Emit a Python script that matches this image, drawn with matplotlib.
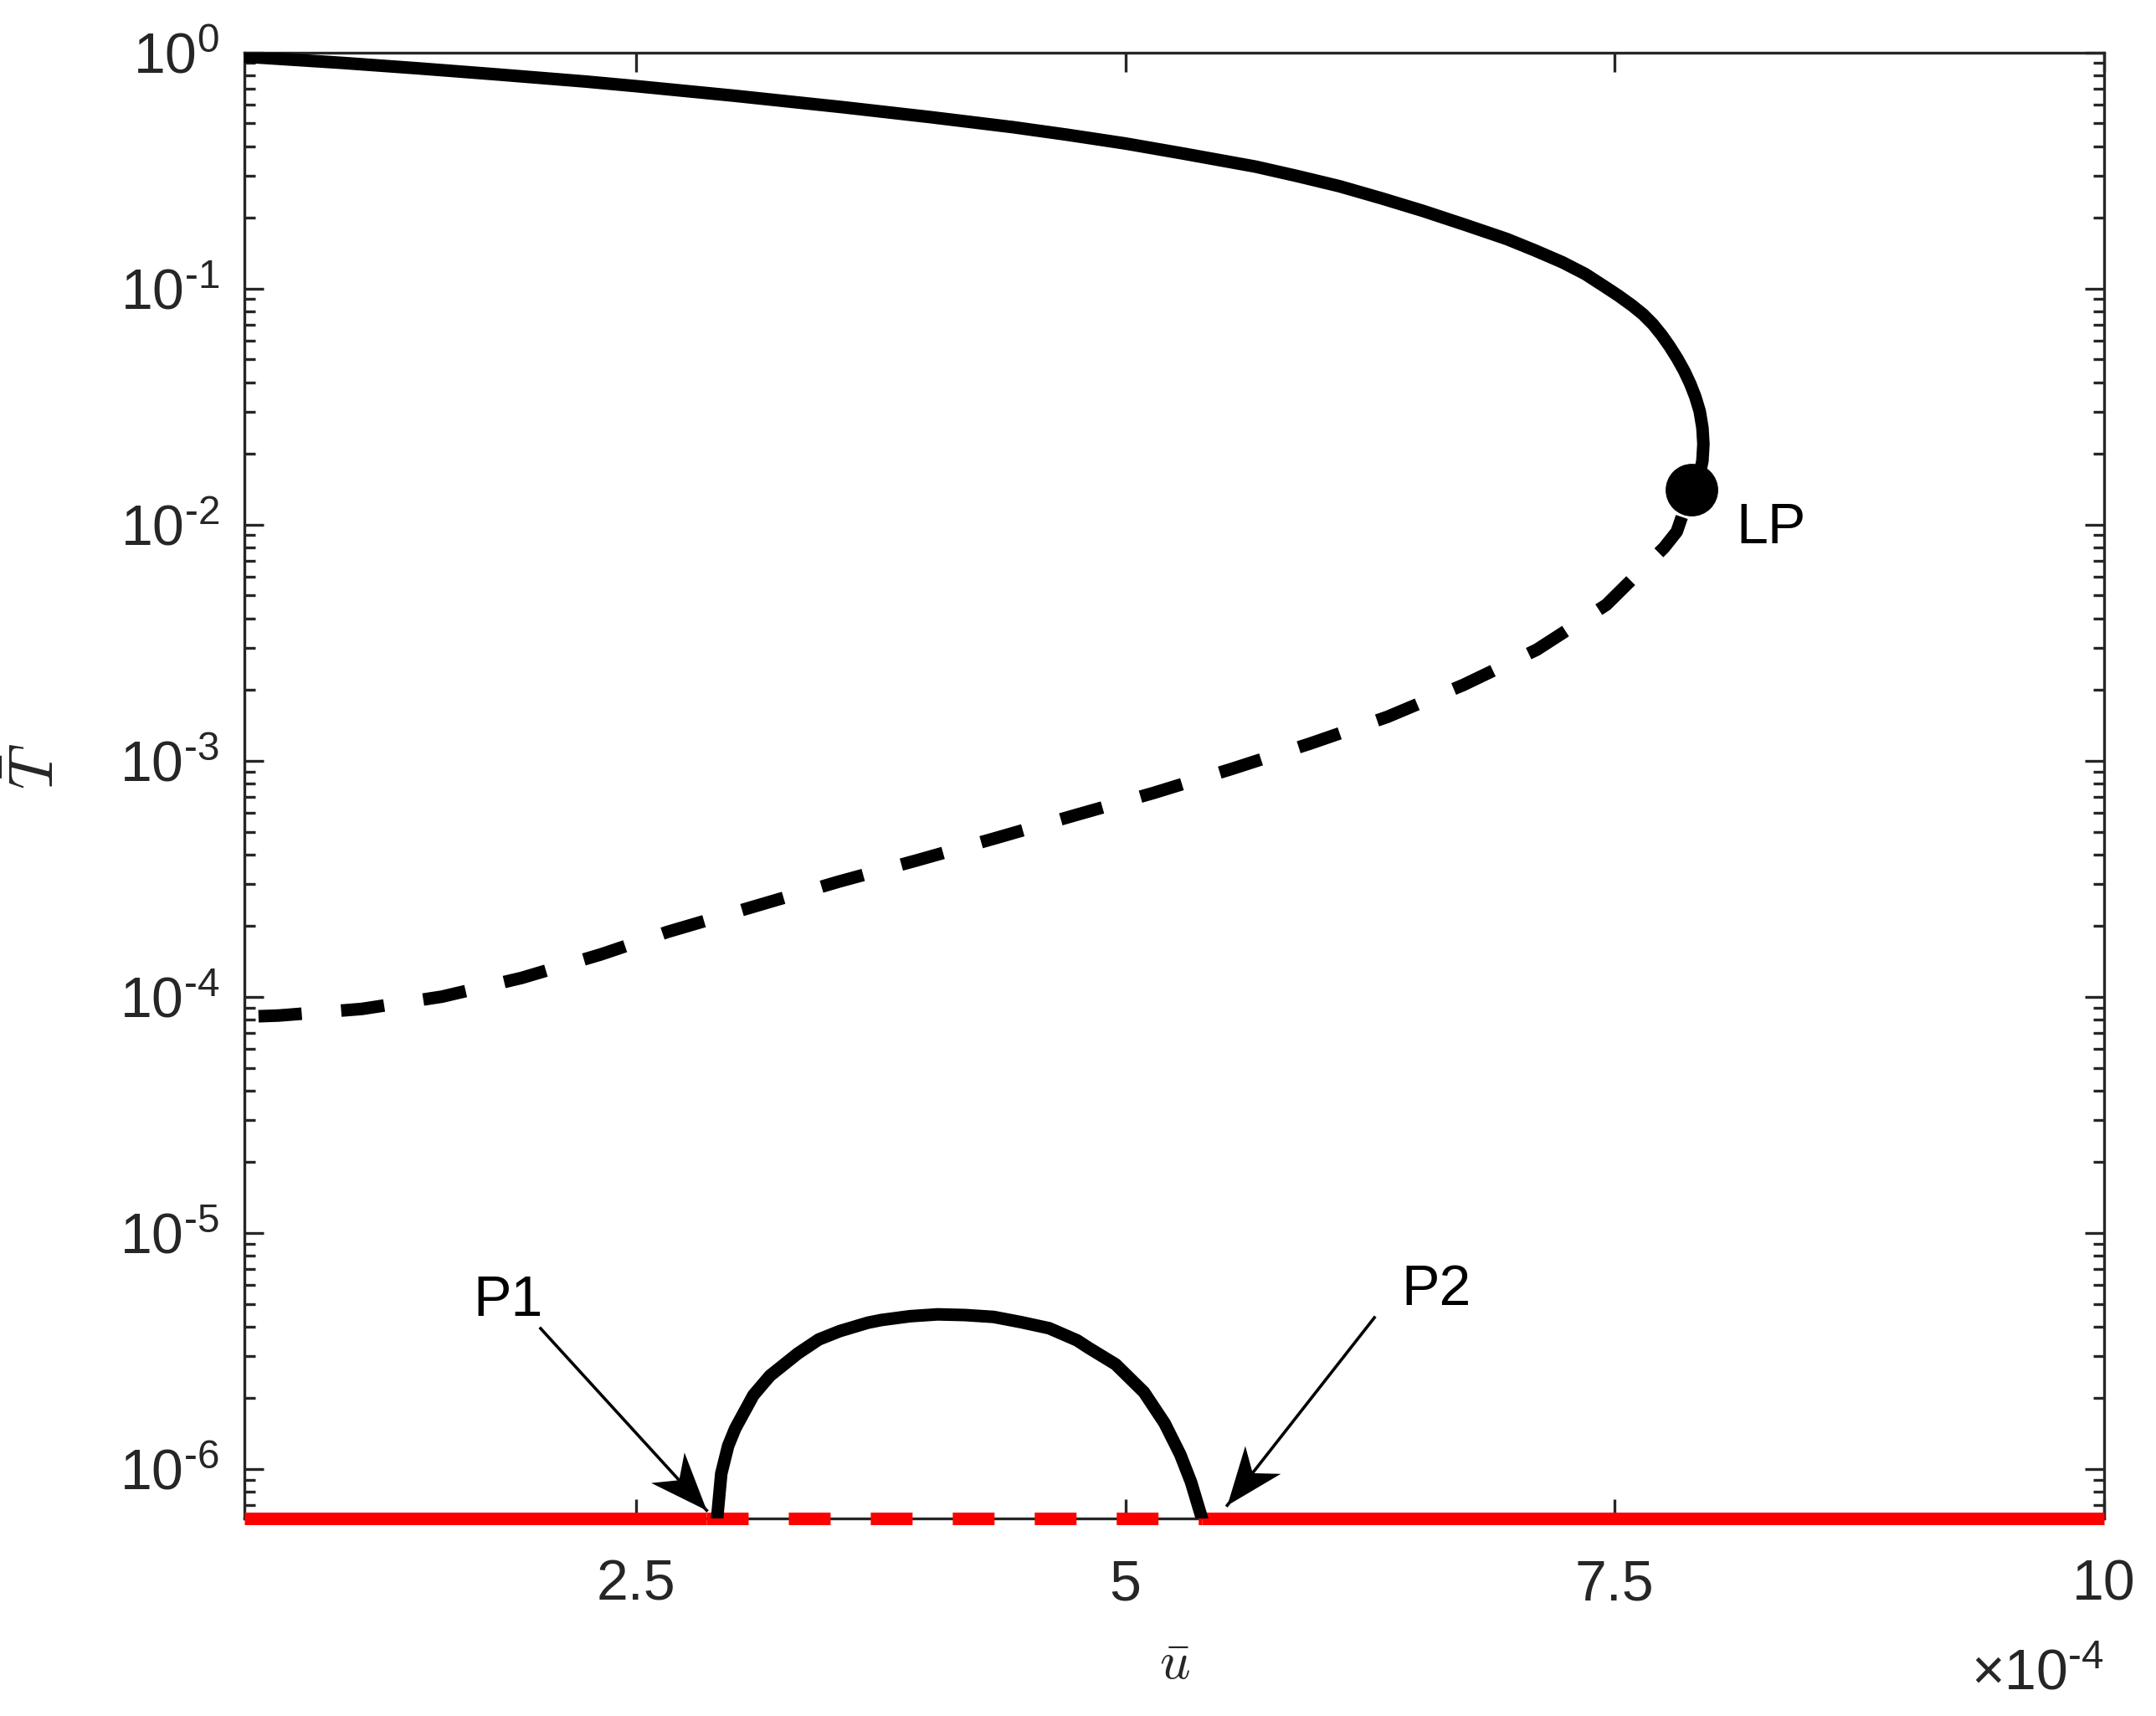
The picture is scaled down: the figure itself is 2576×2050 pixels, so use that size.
"""Bifurcation diagram: T-bar vs u-bar on a log axis (MATLAB-style look)."""
import numpy as np
import matplotlib
matplotlib.use("Agg")
import matplotlib.pyplot as plt
from matplotlib.markers import MarkerStyle
from matplotlib.path import Path
from matplotlib.transforms import Affine2D
from matplotlib.ticker import FuncFormatter, NullFormatter, NullLocator

plt.rcParams['font.family'] = ['Liberation Sans', 'DejaVu Sans']
plt.rcParams['mathtext.fontset'] = 'custom'
plt.rcParams['mathtext.rm'] = 'Liberation Sans'
plt.rcParams['mathtext.it'] = 'Liberation Sans:italic'

U_SCALE = 1e-4          # u values below are in units of 1e-4

# --- stable upper branch (solid), from the left edge to the limit point ---
u_upper = [0.5, 1.0, 1.39, 1.8, 2.243, 2.5, 3.0, 3.553, 4.0, 4.425, 4.7, 5.0,
           5.3, 5.665, 5.879, 6.093, 6.307, 6.52, 6.735, 6.948, 7.091, 7.233,
           7.35, 7.447, 7.518, 7.59, 7.645, 7.695, 7.74, 7.78, 7.82, 7.855,
           7.886, 7.912, 7.934, 7.948, 7.953, 7.948, 7.93, 7.89]
T_upper = [0.959, 0.902, 0.855, 0.805, 0.752, 0.719, 0.655, 0.586, 0.532,
           0.482, 0.448, 0.411, 0.372, 0.328, 0.299, 0.271, 0.241, 0.213,
           0.186, 0.162, 0.145, 0.129, 0.115, 0.102, 0.0933, 0.0845, 0.0776,
           0.0705, 0.0634, 0.0569, 0.0504, 0.0447, 0.0394, 0.0347, 0.0302,
           0.0257, 0.0219, 0.0186, 0.0158, 0.0140]

# --- unstable lower branch (dashed), from the left edge up to the limit point ---
u_lower = [0.5, 0.676, 1.098, 1.508, 1.914, 2.32, 2.66, 3.535, 3.93, 4.335, 4.737,
           5.143, 5.545, 5.943, 6.337, 6.726, 7.102, 7.457, 7.752, 7.817, 7.89]
T_lower = [8.22e-5, 8.32e-5, 8.87e-5, 1.00e-4, 1.20e-4, 1.51e-4, 1.88e-4, 3.07e-4,
           3.77e-4, 4.69e-4, 5.85e-4, 7.29e-4, 9.23e-4, 1.18e-3, 1.53e-3, 2.09e-3,
           2.95e-3, 4.57e-3, 7.98e-3, 9.33e-3, 1.40e-2]

# --- branch born between P1 and P2 ---
u_arch = [2.914, 2.935, 2.97, 3.006, 3.099, 3.184, 3.326, 3.433, 3.54, 3.685,
          3.754, 3.90, 4.04, 4.18, 4.326, 4.467, 4.61, 4.753, 4.81, 4.95, 5.095,
          5.2, 5.28, 5.335, 5.39]
T_arch = [6.2e-7, 9.55e-7, 1.25e-6, 1.48e-6, 2.05e-6, 2.48e-6, 3.08e-6, 3.53e-6,
          3.83e-6, 4.16e-6, 4.27e-6, 4.43e-6, 4.51e-6, 4.48e-6, 4.40e-6, 4.18e-6,
          3.94e-6, 3.50e-6, 3.26e-6, 2.77e-6, 2.11e-6, 1.56e-6, 1.15e-6, 8.79e-7,
          6.2e-7]

# limit point
u_lp, T_lp = 7.89, 0.0140

# trivial branch drawn on the lower frame: stable outside [P1, P2]
u_min, u_max = 0.5, 10.0
u_p1, u_p2 = 2.86, 5.39
T_floor = 6.17e-7

u_ticks = [2.5, 5, 7.5, 10]
T_decades = [-6, -5, -4, -3, -2, -1, 0]

INK = '#262626'
HYPHEN = '\u2010'       # MATLAB prints a short dash in the exponents


def U(v):
    return np.asarray(v, dtype=float) * U_SCALE


def pow10_label(v, pos=None):
    e = int(round(np.log10(v)))
    return r'$\mathdefault{10^{%s}}$' % str(e).replace('-', HYPHEN)


# notched ("vback2"-like) arrow head, tip at the origin, pointing to +x
HEAD = Path([(0, 0), (-1, 0.39), (-0.71, 0), (-1, -0.39), (0, 0)],
            [Path.MOVETO, Path.LINETO, Path.LINETO, Path.LINETO, Path.CLOSEPOLY])


def text_arrow(ax, tail, tip):
    """thin shaft + filled notched head, like a MATLAB textarrow"""
    tail, tip = (U(tail[0]), tail[1]), (U(tip[0]), tip[1])
    ax.plot([tail[0], tip[0]], [tail[1], tip[1]], color='k', lw=1.3, zorder=6)
    (x0, y0), (x1, y1) = ax.transData.transform([tail, tip])
    ang = np.degrees(np.arctan2(y1 - y0, x1 - x0))
    ax.plot([tip[0]], [tip[1]], ls='none', color='k',
            marker=MarkerStyle(HEAD, transform=Affine2D().rotate_deg(ang)),
            markersize=49.7, markeredgewidth=0, zorder=6, clip_on=False)


fig = plt.figure(figsize=(12.88, 10.25), dpi=200)
ax = fig.add_axes([0.1135, 0.1152, 0.8624, 0.8543])
ax.set_yscale('log')
ax.set_xlim(U(u_min), U(u_max))
ax.set_ylim(T_floor, 1.0)

# ---- trivial branch (red), sits on the bottom frame ----
red = dict(color='#ff0000', lw=5.4, zorder=3, clip_on=False)
ax.plot(U([u_min, u_p1]), [T_floor, T_floor], solid_capstyle='butt', **red)
ax.plot(U([u_p1, u_p2]), [T_floor, T_floor], ls=(0, (3.33, 3.2)),
        dash_capstyle='butt', **red)
ax.plot(U([u_p2, u_max]), [T_floor, T_floor], solid_capstyle='butt', **red)

# ---- main S-curve ----
LW = 5.4
ax.plot(U(u_upper), T_upper, color='k', lw=LW, zorder=4, solid_joinstyle='round')
ax.plot(U(u_lower), T_lower, color='k', lw=LW, zorder=4,
        ls=(5.5, (3.45, 3.15)), dash_capstyle='butt')
ax.plot(U(u_arch), T_arch, color='k', lw=LW, zorder=4, solid_joinstyle='round')
ax.plot(U([u_lp]), [T_lp], 'o', color='k', ms=21.6, zorder=5)

# ---- annotations ----
ax.text(U(8.119), 8.32e-3, 'LP', fontsize=24.5, color='k', ha='left', va='baseline')
ax.text(U(1.666), 4.44e-6, 'P1', fontsize=24.5, color='k', ha='left', va='baseline')
ax.text(U(6.409), 4.93e-6, 'P2', fontsize=24.5, color='k', ha='left', va='baseline')
text_arrow(ax, (2.012, 3.93e-6), (u_p1, 6.67e-7))
text_arrow(ax, (6.272, 4.37e-6), (5.52, 7.0e-7))

# ---- axes styling (boxed, ticks inside) ----
ax.set_xticks(U(u_ticks))
ax.xaxis.set_major_formatter(FuncFormatter(lambda v, p: f'{v / U_SCALE:g}'))
ax.xaxis.set_minor_locator(NullLocator())

ax.set_yticks([10.0 ** e for e in T_decades])
minor = [m * 10.0 ** e for e in range(T_decades[0] - 1, T_decades[-1])
         for m in range(2, 10)]
ax.set_yticks([t for t in minor if T_floor <= t <= 1.0], minor=True)
ax.yaxis.set_major_formatter(FuncFormatter(pow10_label))
ax.yaxis.set_minor_formatter(NullFormatter())

ax.tick_params(which='both', direction='in', top=True, right=True,
               colors=INK, width=1.2)
ax.tick_params(which='major', length=8.3, labelsize=24.5)
ax.tick_params(which='minor', length=4.7)
ax.tick_params(axis='x', pad=17)
ax.tick_params(axis='y', pad=11)
for s in ax.spines.values():
    s.set_linewidth(1.2)
    s.set_color(INK)

ax.text(1.0, -0.117, r'$\mathdefault{\times10^{%s4}}$' % HYPHEN,
        transform=ax.transAxes, ha='right', va='baseline', fontsize=24.5, color=INK)

ax.set_xlabel(r'$\bar{u}$', fontsize=23, color=INK, math_fontfamily='cm')
ax.xaxis.set_label_coords(0.5, -0.083)
ax.set_ylabel(r'$\bar{T}$', fontsize=27, color=INK, math_fontfamily='cm')
ax.yaxis.set_label_coords(-0.096, 0.513)

fig.savefig('out.png', dpi=200, facecolor='white')
